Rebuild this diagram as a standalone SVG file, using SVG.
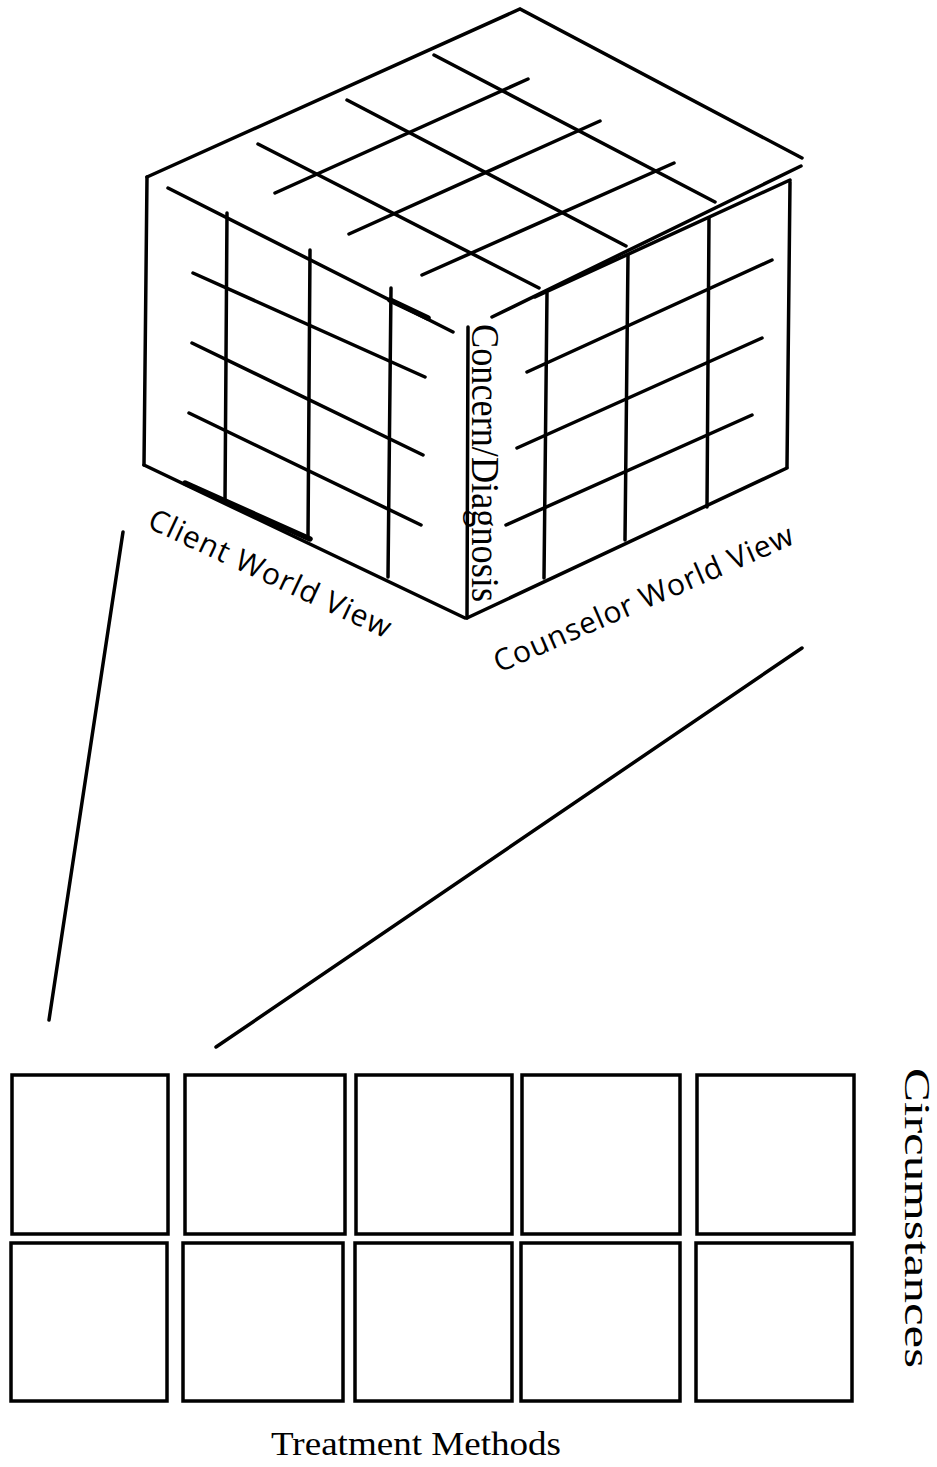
<svg xmlns="http://www.w3.org/2000/svg" width="937" height="1467" viewBox="0 0 937 1467">
<style>
.ln{stroke:#000;stroke-width:3.5;stroke-linecap:round;fill:none}
.thk{stroke:#000;stroke-width:5.5;stroke-linecap:round;fill:none}
.cell{stroke:#000;stroke-width:3.5;fill:#fff}
.serif{font-family:"Liberation Serif","Times New Roman",serif;fill:#000}
.sans{font-family:"Open Sans","Liberation Sans",sans-serif;fill:#000}
</style>
<rect width="937" height="1467" fill="#fff"/>
<g id="cube">
  <g id="top-face">
    <polyline class="ln" points="147,177 520,9 802,158"/>
    <line class="ln" x1="434" y1="55" x2="715" y2="202"/>
    <line class="ln" x1="347" y1="100" x2="626" y2="246"/>
    <line class="ln" x1="258" y1="144" x2="539" y2="288"/>
    <line class="ln" x1="275" y1="193" x2="528" y2="79"/>
    <line class="ln" x1="349" y1="234" x2="600" y2="121"/>
    <line class="ln" x1="422" y1="275" x2="674" y2="163"/>
  </g>
  <g id="left-face">
    <line class="ln" x1="147" y1="177" x2="144" y2="465"/>
    <line class="ln" x1="168" y1="188" x2="453" y2="332"/>
    <line class="thk" x1="390" y1="300" x2="428" y2="318"/>
    <line class="ln" x1="144" y1="465" x2="465" y2="618"/>
    <line class="thk" x1="185" y1="483" x2="310" y2="539"/>
    <line class="ln" x1="227" y1="213" x2="225" y2="502"/>
    <line class="ln" x1="310" y1="250" x2="308" y2="538"/>
    <line class="ln" x1="391" y1="288" x2="388" y2="577"/>
    <line class="ln" x1="193" y1="273" x2="425" y2="377"/>
    <line class="ln" x1="192" y1="343" x2="423" y2="455"/>
    <line class="ln" x1="189" y1="413" x2="421" y2="525"/>
  </g>
  <g id="right-face">
    <line class="ln" x1="468" y1="327" x2="467" y2="618"/>
    <line class="ln" x1="492" y1="317" x2="801" y2="166"/>
    <line class="ln" x1="535" y1="297" x2="790" y2="180"/>
    <line class="ln" x1="790" y1="182" x2="787" y2="467"/>
    <line class="ln" x1="467" y1="618" x2="787" y2="468"/>
    <line class="ln" x1="547" y1="293" x2="544" y2="578"/>
    <line class="ln" x1="628" y1="255" x2="625" y2="540"/>
    <line class="ln" x1="709" y1="218" x2="707" y2="507"/>
    <line class="ln" x1="527" y1="372" x2="772" y2="260"/>
    <line class="ln" x1="517" y1="448" x2="762" y2="338"/>
    <line class="ln" x1="506" y1="525" x2="752" y2="415"/>
  </g>
  <text id="label-concern" class="serif" font-size="39" transform="translate(472,324) rotate(90)" textLength="278" lengthAdjust="spacingAndGlyphs">Concern/Diagnosis</text>
  <text id="label-client" class="sans" font-size="30" transform="translate(146,527) rotate(25)" textLength="264" lengthAdjust="spacing">Client World View</text>
  <text id="label-counselor" class="sans" font-size="30" transform="translate(499,673) rotate(-23.6)" textLength="324" lengthAdjust="spacing">Counselor World View</text>
</g>
<g id="connectors">
  <line class="ln" x1="123" y1="532" x2="49" y2="1020"/>
  <line class="ln" x1="802" y1="648" x2="216" y2="1047"/>
</g>
<g id="grid">
  <g id="r1c1"><rect class="cell" x="12" y="1075" width="156" height="159"/></g>
  <g id="r1c2"><rect class="cell" x="185" y="1075" width="160" height="159"/></g>
  <g id="r1c3"><rect class="cell" x="356" y="1075" width="156" height="159"/></g>
  <g id="r1c4"><rect class="cell" x="522" y="1075" width="158" height="159"/></g>
  <g id="r1c5"><rect class="cell" x="697" y="1075" width="157" height="159"/></g>
  <g id="r2c1"><rect class="cell" x="11" y="1243" width="156" height="158"/></g>
  <g id="r2c2"><rect class="cell" x="183" y="1243" width="160" height="158"/></g>
  <g id="r2c3"><rect class="cell" x="355" y="1243" width="157" height="158"/></g>
  <g id="r2c4"><rect class="cell" x="521" y="1243" width="159" height="158"/></g>
  <g id="r2c5"><rect class="cell" x="696" y="1243" width="156" height="158"/></g>
</g>
<text id="label-treatment" class="serif" font-size="33" x="271" y="1455" textLength="290" lengthAdjust="spacingAndGlyphs">Treatment Methods</text>
<text id="label-circumstances" class="serif" font-size="35" transform="translate(905,1068) rotate(90)" textLength="300" lengthAdjust="spacingAndGlyphs">Circumstances</text>
</svg>
